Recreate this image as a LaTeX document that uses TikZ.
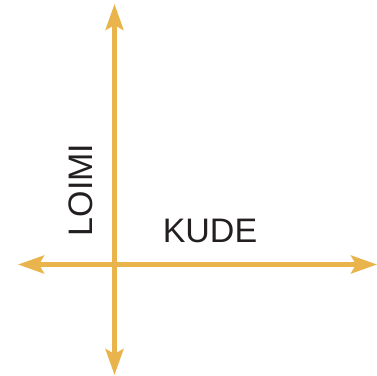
\documentclass[tikz,border=0pt]{standalone}
\usepackage{fontspec}
\setmainfont{Liberation Sans}
\usetikzlibrary{arrows.meta}
\definecolor{axisgold}{HTML}{E9B44C}
\definecolor{txt}{HTML}{231F20}
\begin{document}
\begin{tikzpicture}[x=1pt,y=-1pt,
  axis/.style={draw=axisgold,line width=4.5pt,{Stealth[length=26pt,width=18pt,inset=5pt]}-{Stealth[length=26pt,width=18pt,inset=5pt]}},
  lbl/.style={text=txt,font=\fontsize{34}{34}\selectfont,inner sep=0pt}]
\useasboundingbox (0,0) rectangle (377,375);
\coordinate (top) at (114.5,4);
\coordinate (bottom) at (114.5,375);
\coordinate (left) at (18,264.5);
\coordinate (right) at (377,264.5);
\draw[axis] (top) -- (bottom);
\draw[axis] (left) -- (right);
\node[lbl,anchor=base] (kude) at (210,242) {KUDE};
\node[lbl,anchor=base,rotate=90] (loimi) at (92,190) {LOIMI};
\end{tikzpicture}
\end{document}
